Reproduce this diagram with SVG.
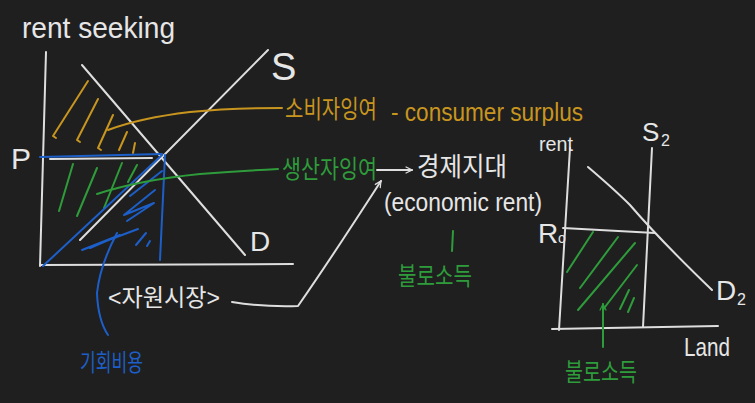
<svg xmlns="http://www.w3.org/2000/svg" width="755" height="403" viewBox="0 0 755 403">
<style>
.w{stroke:#dedede;fill:none;stroke-width:2;stroke-linecap:round;stroke-linejoin:round}
.o{stroke:#c8951f;fill:none;stroke-width:2;stroke-linecap:round;stroke-linejoin:round}
.g{stroke:#2e9c3b;fill:none;stroke-width:2;stroke-linecap:round;stroke-linejoin:round}
.b{stroke:#1d5fc9;fill:none;stroke-width:2;stroke-linecap:round;stroke-linejoin:round}
text{font-family:"Liberation Sans","Noto Sans CJK KR",sans-serif}
.tw{fill:#e6e6e6}
.to{fill:#c8951f}
.tg{fill:#2e9c3b}
.tb{fill:#1d5fc9}
</style>
<defs>
<marker id="aw" viewBox="0 0 10 10" refX="9" refY="5" markerWidth="8" markerHeight="8" orient="auto" markerUnits="userSpaceOnUse">
<path d="M1,1 L9,5 L1,9" fill="none" stroke="#dedede" stroke-width="1.5"/>
</marker>
<marker id="ag" viewBox="0 0 10 10" refX="9" refY="5" markerWidth="8" markerHeight="8" orient="auto" markerUnits="userSpaceOnUse">
<path d="M1,1 L9,5 L1,9" fill="none" stroke="#2e9c3b" stroke-width="1.5"/>
</marker>
</defs>
<rect width="755" height="403" fill="#1f1f1f"/>

<g id="title">
<text x="22" y="38" class="tw" font-size="30" textLength="153" lengthAdjust="spacingAndGlyphs">rent seeking</text>
</g>

<g id="left-graph">
<path class="w" d="M46,52 L40,266"/>
<path class="w" d="M40,265 L293,264"/>
<path class="w" d="M82,65 L245,255"/>
<path class="w" d="M80,240 L268,50"/>
<path class="w" d="M50,159 L152,158"/>
<text x="271" y="80" class="tw" font-size="38">S</text>
<text x="250" y="251" class="tw" font-size="28">D</text>
<text x="11" y="169" class="tw" font-size="30">P</text>
</g>

<g id="consumer-surplus-area">
<path class="o" d="M88,81 L53,136 L56,138"/>
<path class="o" d="M98,99 L77,140 L80,142"/>
<path class="o" d="M113,115 L98,148 L101,150"/>
<path class="o" d="M127,132 L119,150"/>
<path class="o" d="M135,143 L133,153"/>
</g>

<g id="producer-surplus-area">
<path class="g" d="M73,164 L59,211"/>
<path class="g" d="M97,168 L77,216"/>
<path class="g" d="M122,163 L104,208"/>
<path class="g" d="M137,165 L128,182"/>
</g>

<g id="opportunity-cost-area">
<path class="b" d="M40,157 L162,154"/>
<path class="b" d="M165,155 L160,260"/>
<path class="b" d="M43,266 L162,155"/>
<path class="b" d="M162,171 L130,196"/>
<path class="b" d="M155,190 L124,215 L154,203 L127,221"/>
<path class="b" d="M138,229 L82,250 L120,235 L90,248"/>
<path class="b" d="M146,233 L136,245"/>
<path class="b" d="M150,241 L147,246"/>
</g>

<g id="label-consumer-surplus">
<text x="285" y="118" class="to" font-size="25" textLength="92" lengthAdjust="spacingAndGlyphs">소비자잉여</text>
<text x="391" y="121" class="to" font-size="26" textLength="192" lengthAdjust="spacingAndGlyphs">- consumer surplus</text>
</g>

<g id="label-producer-surplus">
<text x="282" y="178" class="tg" font-size="25" textLength="95" lengthAdjust="spacingAndGlyphs">생산자잉여</text>
</g>

<g id="label-economic-rent">
<text x="417" y="176" class="tw" font-size="26" textLength="90" lengthAdjust="spacingAndGlyphs">경제지대</text>
<text x="384" y="211" class="tw" font-size="26" textLength="158" lengthAdjust="spacingAndGlyphs">(economic rent)</text>
</g>

<g id="label-unearned-income-1">
<path class="g" d="M453,231 L452,251"/>
<text x="398" y="285" class="tg" font-size="25" textLength="74" lengthAdjust="spacingAndGlyphs">불로소득</text>
</g>

<g id="label-resource-market">
<text x="108" y="306" class="tw" font-size="24" textLength="112" lengthAdjust="spacingAndGlyphs">&lt;자원시장&gt;</text>
</g>

<g id="label-opportunity-cost">
<text x="80" y="371" class="tb" font-size="24" textLength="63" lengthAdjust="spacingAndGlyphs">기회비용</text>
</g>

<g id="right-graph">
<path class="w" d="M570,148 L559,330"/>
<path class="w" d="M552,329 L718,326"/>
<path class="w" d="M652,148 L643,327"/>
<path class="w" d="M588,167 Q615,190 630,205 Q660,240 712,290"/>
<path class="w" d="M563,228 L655,233"/>
<text x="539" y="151" class="tw" font-size="20" textLength="34" lengthAdjust="spacingAndGlyphs">rent</text>
<text x="642" y="141" class="tw" font-size="26">S</text>
<text x="661" y="146" class="tw" font-size="16">2</text>
<text x="716" y="300" class="tw" font-size="28">D</text>
<text x="737" y="305" class="tw" font-size="16">2</text>
<text x="538" y="243" class="tw" font-size="28">R</text>
<text x="558" y="243" class="tw" font-size="14">o</text>
<text x="684" y="356" class="tw" font-size="26" textLength="46" lengthAdjust="spacingAndGlyphs">Land</text>
</g>

<g id="rent-area">
<path class="g" d="M593,232 L567,272"/>
<path class="g" d="M618,237 L580,288"/>
<path class="g" d="M635,243 L578,310"/>
<path class="g" d="M637,265 L605,307 L603,310"/>
<path class="g" d="M629,290 L620,309"/>
<path class="g" d="M634,298 L628,312"/>
</g>

<g id="label-unearned-income-2">
<text x="565" y="381" class="tg" font-size="25" textLength="72" lengthAdjust="spacingAndGlyphs">불로소득</text>
</g>

<g id="connectors">
<path class="o" d="M108,130 Q140,118 190,112 Q230,108 282,108"/>
<path class="g" d="M97,194 Q140,180 200,174 Q240,171 278,169"/>
<path class="b" d="M117,233 Q100,265 97,293 Q98,320 108,335"/>
<path class="w" d="M377,170 L412,170" marker-end="url(#aw)"/>
<path class="w" d="M232,302 Q260,307 298,306 Q330,260 381,181" marker-end="url(#aw)"/>
<path class="g" d="M603,347 L603,304" marker-end="url(#ag)"/>
</g>
</svg>
